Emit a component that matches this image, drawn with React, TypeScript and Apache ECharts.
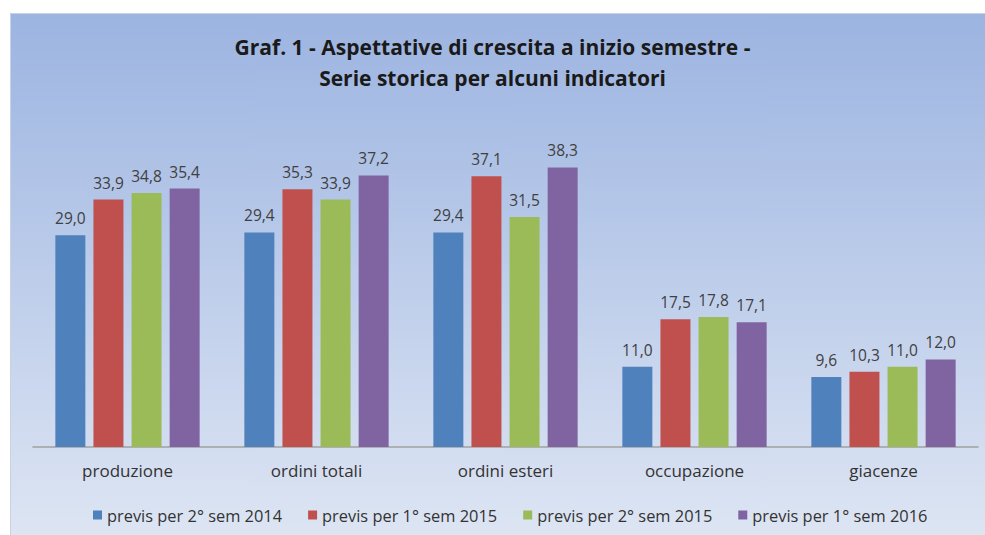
import React, { useEffect, useRef } from "react";
import * as echarts from "echarts";

const categories = ["produzione", "ordini totali", "ordini esteri", "occupazione", "giacenze"];
const seriesNames = [
  "previs per 2° sem 2014",
  "previs per 1° sem 2015",
  "previs per 2° sem 2015",
  "previs per 1° sem 2016",
];
const sem2_2014 = [29.0, 29.4, 29.4, 11.0, 9.6];
const sem1_2015 = [33.9, 35.3, 37.1, 17.5, 10.3];
const sem2_2015 = [34.8, 33.9, 31.5, 17.8, 11.0];
const sem1_2016 = [35.4, 37.2, 38.3, 17.1, 12.0];
const colors = ["#4F81BD", "#C0504D", "#9BBB59", "#8064A2"];
const titleText = "Graf. 1 - Aspettative di crescita a inizio semestre -\nSerie storica per alcuni indicatori";

const FONT = "'Open Sans', 'Noto Sans', sans-serif";

export default function App() {
  const ref = useRef<HTMLDivElement>(null);
  useEffect(() => {
    document.body.style.margin = "0";
    document.documentElement.style.overflow = "hidden";
    document.body.style.overflow = "hidden";
    const chart = echarts.init(ref.current!, null, { renderer: "svg" });
    const data = [sem2_2014, sem1_2015, sem2_2015, sem1_2016];
    chart.setOption({
      animation: false,
      backgroundColor: "#ffffff",
      graphic: [
        {
          type: "rect",
          z: -10,
          silent: true,
          shape: { x: 10, y: 13, width: 975, height: 522 },
          style: {
            fill: new echarts.graphic.LinearGradient(0, 0, 0, 1, [
              { offset: 0, color: "#9CB4E1" },
              { offset: 1, color: "#DDE5F3" },
            ]),
          },
        },
        {
          type: "polyline",
          z: -9,
          silent: true,
          shape: { points: [[10.5, 535], [10.5, 13.5], [985, 13.5]] },
          style: { stroke: "#C8D2E2", lineWidth: 1, fill: "none" },
        },
      ],
      title: {
        text: titleText,
        left: "center",
        top: 26,
        textStyle: {
          fontFamily: FONT,
          fontWeight: "bold",
          fontSize: 21,
          lineHeight: 31,
          color: "#1a1a1a",
        },
      },
      legend: {
        bottom: 7,
        left: 88,
        itemWidth: 9,
        itemHeight: 9,
        itemGap: 26,
        icon: "rect",
        textStyle: { fontFamily: FONT, fontSize: 16.4, color: "#333" },
        data: seriesNames,
      },
      grid: { left: 33, right: 7, top: 118.5, bottom: 88, containLabel: false },
      xAxis: {
        type: "category",
        data: categories,
        axisLine: { lineStyle: { color: "#A0A0A0", width: 1.5 } },
        axisTick: { show: false },
        axisLabel: { fontFamily: FONT, fontSize: 17, color: "#333", margin: 15 },
      },
      yAxis: {
        type: "value",
        min: 0,
        max: 45,
        show: false,
        splitLine: { show: false },
      },
      series: data.map((d, i) => ({
        name: seriesNames[i],
        type: "bar",
        data: d,
        barWidth: 30,
        barGap: "27%",
        itemStyle: { color: colors[i] },
        label: {
          show: true,
          position: "top",
          distance: 9,
          fontFamily: FONT,
          fontSize: 15.5,
          color: "#404040",
          formatter: (p: any) => p.value.toFixed(1).replace(".", ","),
        },
      })),
    });
    return () => chart.dispose();
  }, []);
  return <div ref={ref} style={{ position: "absolute", left: 0, top: 0, width: 985, height: 535 }} />;
}
